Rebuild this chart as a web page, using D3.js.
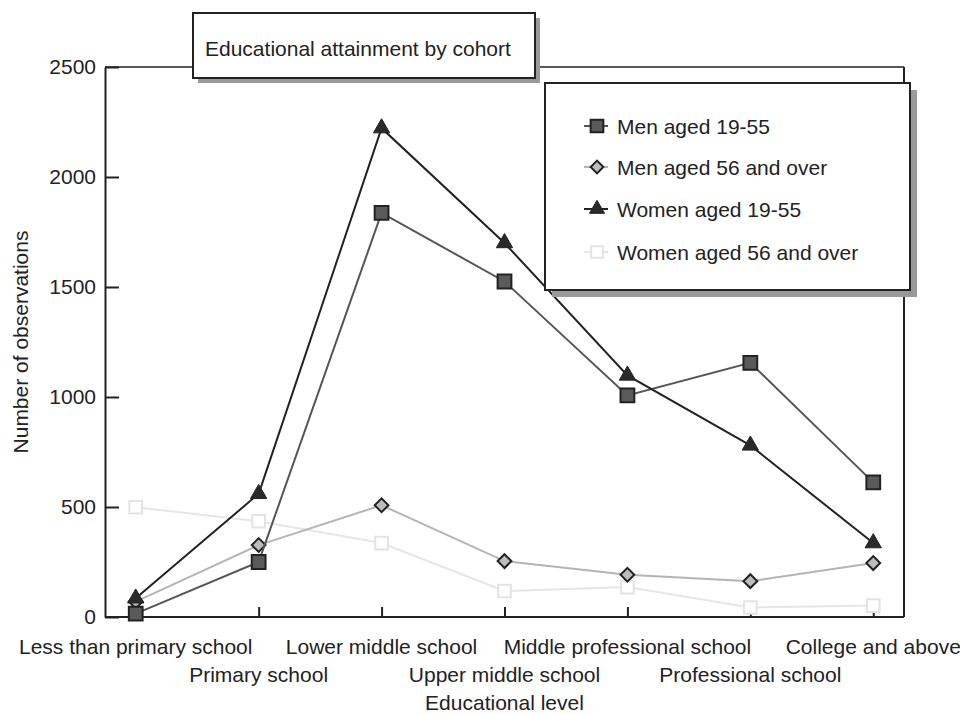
<!DOCTYPE html>
<html>
<head>
<meta charset="utf-8">
<script src="https://cdn.jsdelivr.net/npm/d3@7"></script>
<style>
  html, body { margin: 0; padding: 0; background: #fff; }
  svg { display: block; font-family: "Liberation Sans", Arial, Helvetica, sans-serif; }
</style>
</head>
<body>
<svg id="chart" width="960" height="714"></svg>
<script>
const categories = [
  "Less than primary school", "Primary school", "Lower middle school",
  "Upper middle school", "Middle professional school", "Professional school",
  "College and above"
];
const menYoung   = [15, 250, 1837, 1525, 1007, 1155, 612];
const menOld     = [70, 327, 508, 254, 192, 163, 245];
const womenYoung = [85, 560, 2222, 1700, 1098, 780, 336];
const womenOld   = [499, 435, 336, 118, 136, 43, 52];
const seriesNames = ["Men aged 19-55", "Men aged 56 and over", "Women aged 19-55", "Women aged 56 and over"];
const yTicks = [0, 500, 1000, 1500, 2000, 2500];

(function () {
const styles = [
  { values: menYoung,   name: seriesNames[0], line: "#555", sym: d3.symbolSquare,   size: 190, rot: 0,  fill: "#5a5a5a", stroke: "#222", sw: 2 },
  { values: menOld,     name: seriesNames[1], line: "#b4b4b4", sym: d3.symbolSquare, size: 95,  rot: 45, fill: "#bdbdbd", stroke: "#222", sw: 2 },
  { values: womenYoung, name: seriesNames[2], line: "#222", sym: d3.symbolTriangle, size: 115, rot: 0,  fill: "#2a2a2a", stroke: "#222", sw: 1 },
  { values: womenOld,   name: seriesNames[3], line: "#e6e6e6", sym: d3.symbolSquare, size: 160, rot: 0,  fill: "#fff", stroke: "#e3e3e3", sw: 2 }
];

const svg = d3.select("#chart");
const pL = 105, pR = 904, pT = 67, pB = 617;
const x = d3.scalePoint().domain(categories).range([pL, pR]).padding(0.25);
const y = d3.scaleLinear().domain([0, 2500]).range([pB, pT]);
const textColor = "#222";

// frame (top & right)
svg.append("line").attr("x1", pL).attr("x2", pR).attr("y1", pT).attr("y2", pT)
  .attr("stroke", "#222").attr("stroke-width", 1.5);
svg.append("line").attr("x1", pR).attr("x2", pR).attr("y1", pT).attr("y2", pB)
  .attr("stroke", "#222").attr("stroke-width", 2);

// y axis
const yAxis = svg.append("g").attr("transform", `translate(${pL},0)`)
  .call(d3.axisRight(y).tickValues(yTicks).tickSize(14).tickSizeOuter(0).tickFormat(d3.format("d")));
yAxis.select(".domain").attr("stroke", "#222").attr("stroke-width", 2);
yAxis.selectAll(".tick line").attr("stroke", "#222").attr("stroke-width", 2);
yAxis.selectAll(".tick text").attr("x", -9).attr("text-anchor", "end")
  .attr("font-size", 21).attr("fill", textColor).attr("font-family", "Liberation Sans, Arial, sans-serif");

// x axis
const xAxis = svg.append("g").attr("transform", `translate(0,${pB})`)
  .call(d3.axisTop(x).tickSize(10).tickSizeOuter(0).tickFormat(""));
xAxis.select(".domain").attr("d", `M${pL},0H${pR}`).attr("stroke", "#222").attr("stroke-width", 2);
xAxis.selectAll(".tick line").attr("stroke", "#222").attr("stroke-width", 2);

// x labels in two rows
svg.append("g").selectAll("text").data(categories).join("text")
  .attr("x", d => x(d))
  .attr("y", (d, i) => i % 2 === 0 ? 654 : 682)
  .attr("text-anchor", "middle")
  .attr("font-size", 21).attr("fill", textColor)
  .text(d => d);

svg.append("text").attr("x", (pL + pR) / 2).attr("y", 710)
  .attr("text-anchor", "middle").attr("font-size", 21).attr("fill", textColor)
  .text("Educational level");

svg.append("text")
  .attr("transform", `translate(28,${(pT + pB) / 2}) rotate(-90)`)
  .attr("text-anchor", "middle").attr("font-size", 21).attr("fill", textColor)
  .text("Number of observations");

// series (draw light ones first)
const line = d3.line().x((d, i) => x(categories[i])).y(d => y(d));
const order = [3, 1, 0, 2];
order.forEach(k => {
  const s = styles[k];
  const g = svg.append("g");
  g.append("path").datum(s.values).attr("d", line)
    .attr("fill", "none").attr("stroke", s.line).attr("stroke-width", 2);
  g.selectAll("path.pt").data(s.values).join("path").attr("class", "pt")
    .attr("d", d3.symbol().type(s.sym).size(s.size))
    .attr("transform", (d, i) => `translate(${x(categories[i])},${y(d)}) rotate(${s.rot})`)
    .attr("fill", s.fill).attr("stroke", s.stroke).attr("stroke-width", s.sw);
});

// title box
const tb = { x: 193, y: 13, w: 342, h: 65 };
svg.append("rect").attr("x", tb.x + 5).attr("y", tb.y + 5).attr("width", tb.w).attr("height", tb.h).attr("fill", "#999");
svg.append("rect").attr("x", tb.x).attr("y", tb.y).attr("width", tb.w).attr("height", tb.h)
  .attr("fill", "#fff").attr("stroke", "#222").attr("stroke-width", 2);
svg.append("text").attr("x", 205).attr("y", 56).attr("font-size", 21).attr("fill", textColor)
  .text("Educational attainment by cohort");

// legend box
const lb = { x: 545, y: 83, w: 365, h: 207 };
svg.append("rect").attr("x", lb.x + 7).attr("y", lb.y + 7).attr("width", lb.w).attr("height", lb.h).attr("fill", "#999");
svg.append("rect").attr("x", lb.x).attr("y", lb.y).attr("width", lb.w).attr("height", lb.h)
  .attr("fill", "#fff").attr("stroke", "#222").attr("stroke-width", 2);
const rowsY = [126, 167, 209, 252];
styles.forEach((s, i) => {
  const g = svg.append("g").attr("transform", `translate(597,${rowsY[i]})`);
  g.append("line").attr("x1", -13).attr("x2", 11).attr("y1", 0).attr("y2", 0)
    .attr("stroke", s.line).attr("stroke-width", 2);
  g.append("path").attr("d", d3.symbol().type(s.sym).size(s.size * 0.85))
    .attr("transform", `rotate(${s.rot})`)
    .attr("fill", s.fill).attr("stroke", s.stroke).attr("stroke-width", s.sw);
  g.append("text").attr("x", 20).attr("y", 7.5).attr("font-size", 21).attr("fill", textColor).text(s.name);
});
})();
</script>
</body>
</html>
